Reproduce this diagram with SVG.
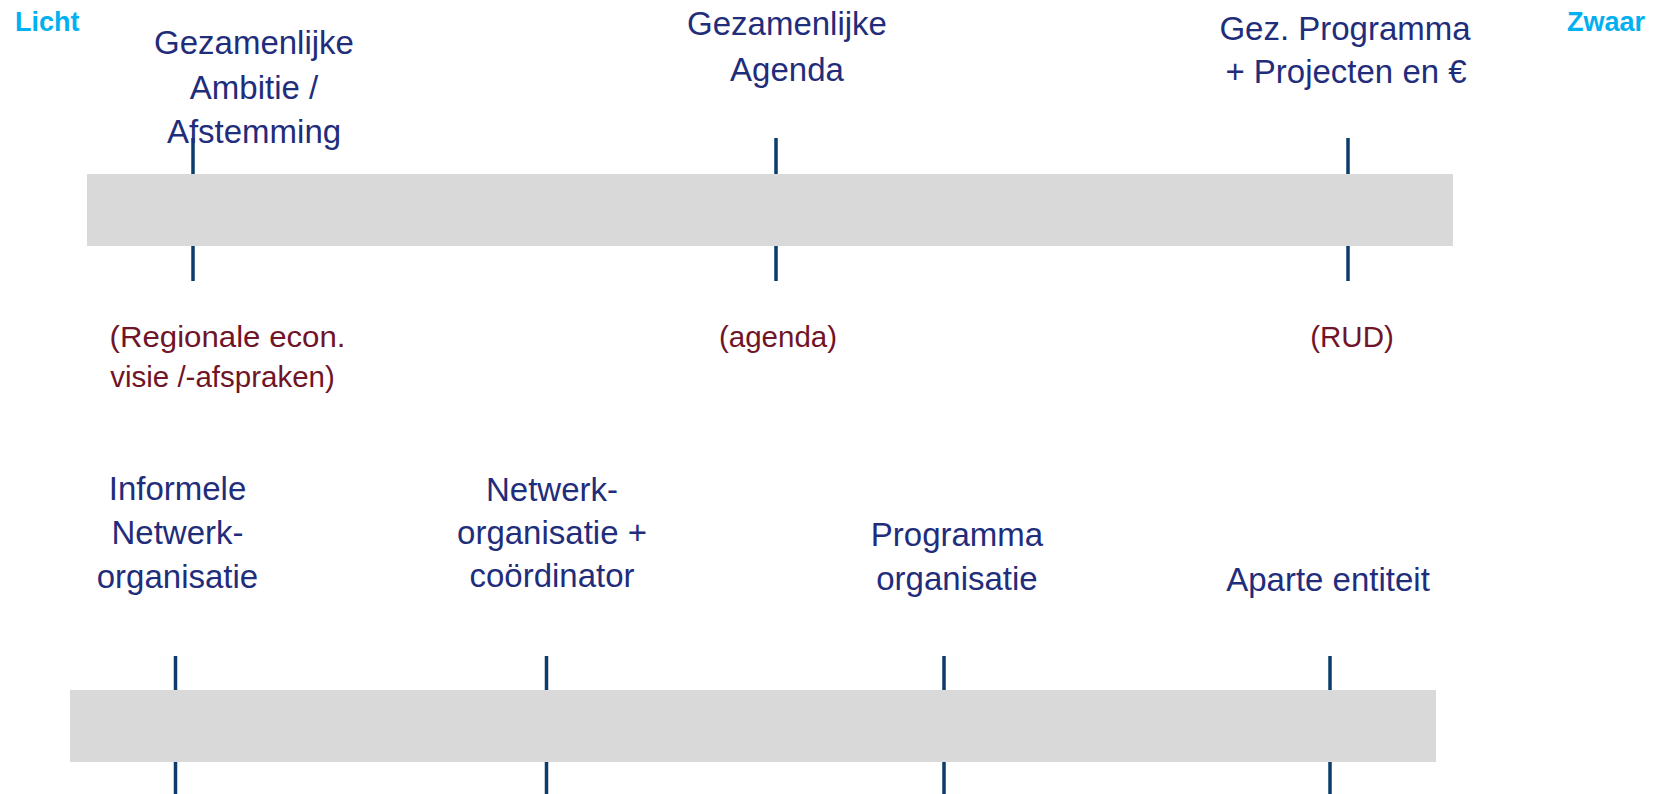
<svg xmlns="http://www.w3.org/2000/svg" width="1667" height="794" viewBox="0 0 1667 794">
  <style>
    .bar { fill: #D9D9D9; }
    .tick { stroke: #0A3D6B; stroke-width: 3.5; fill: none; }
    .main { font-family: "Liberation Sans", Arial, sans-serif; font-size: 33px; fill: #1F2D7B; text-anchor: middle; }
    .sub { font-family: "Liberation Sans", Arial, sans-serif; font-size: 29.5px; fill: #701428; text-anchor: middle; }
    .end { font-family: "Liberation Sans", Arial, sans-serif; font-size: 27px; font-weight: bold; fill: #00B0F0; }
  </style>
  <rect width="1667" height="794" fill="#FFFFFF"/>

  <g id="scale-labels">
    <text class="end" x="15" y="31">Licht</text>
    <text class="end" x="1567" y="31">Zwaar</text>
  </g>

  <g id="connectors">
    <line class="tick" x1="193" y1="138" x2="193" y2="281"/>
    <line class="tick" x1="776" y1="138" x2="776" y2="281"/>
    <line class="tick" x1="1348" y1="138" x2="1348" y2="281"/>
    <line class="tick" x1="175.5" y1="656" x2="175.5" y2="794"/>
    <line class="tick" x1="546.5" y1="656" x2="546.5" y2="794"/>
    <line class="tick" x1="944" y1="656" x2="944" y2="794"/>
    <line class="tick" x1="1330" y1="656" x2="1330" y2="794"/>
  </g>

  <g id="bar-top">
    <rect class="bar" x="87" y="174" width="1366" height="72"/>
  </g>
  <g id="bar-bottom">
    <rect class="bar" x="70" y="690" width="1366" height="72"/>
  </g>

  <g id="node-ambitie">
    <text class="main" x="254" y="54">Gezamenlijke</text>
    <text class="main" x="254" y="99">Ambitie /</text>
    <text class="main" x="254" y="143">Afstemming</text>
  </g>
  <g id="node-agenda">
    <text class="main" x="787" y="35">Gezamenlijke</text>
    <text class="main" x="787" y="81">Agenda</text>
  </g>
  <g id="node-programma">
    <text class="main" x="1345" y="40">Gez. Programma</text>
    <text class="main" x="1346" y="83">+ Projecten en €</text>
  </g>

  <g id="node-sub-regionale">
    <text class="sub" x="227.5" y="347" textLength="236" lengthAdjust="spacingAndGlyphs">(Regionale econ.</text>
    <text class="sub" x="222.5" y="387">visie /-afspraken)</text>
  </g>
  <g id="node-sub-agenda">
    <text class="sub" x="778" y="347">(agenda)</text>
  </g>
  <g id="node-sub-rud">
    <text class="sub" x="1352" y="347">(RUD)</text>
  </g>

  <g id="node-informeel">
    <text class="main" x="177.5" y="500">Informele</text>
    <text class="main" x="177.5" y="544">Netwerk-</text>
    <text class="main" x="177.5" y="588">organisatie</text>
  </g>
  <g id="node-coordinator">
    <text class="main" x="552" y="501">Netwerk-</text>
    <text class="main" x="552" y="544">organisatie +</text>
    <text class="main" x="552" y="587">coördinator</text>
  </g>
  <g id="node-programmaorg">
    <text class="main" x="957" y="546">Programma</text>
    <text class="main" x="957" y="590">organisatie</text>
  </g>
  <g id="node-entiteit">
    <text class="main" x="1328" y="591">Aparte entiteit</text>
  </g>
</svg>
